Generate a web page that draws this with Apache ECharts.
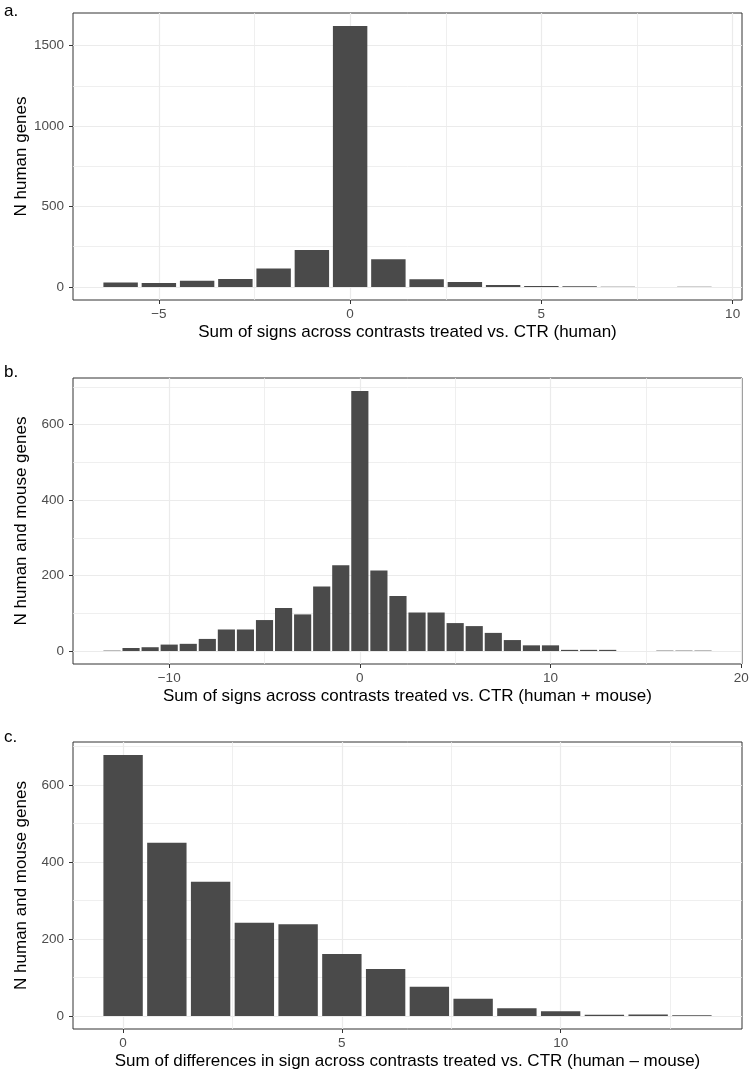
<!DOCTYPE html>
<html>
<head>
<meta charset="utf-8">
<script src="https://cdn.jsdelivr.net/npm/echarts@6/dist/echarts.min.js"></script>
<style>
html,body{margin:0;padding:0;background:#fff;}
#chart{width:749px;height:1071px;}
</style>
</head>
<body>
<div id="chart"></div>
<script>
// ---- Data ----
const aX = [-6, -5, -4, -3, -2, -1, 0, 1, 2, 3, 4, 5, 6, 7, 9];
const aN = [27, 25, 39, 50, 114, 229, 1622, 172, 48, 31, 12, 6, 4, 2, 1];
const bX = [-13, -12, -11, -10, -9, -8, -7, -6, -5, -4, -3, -2, -1, 0, 1, 2, 3, 4, 5, 6, 7, 8, 9, 10, 11, 12, 13, 16, 17, 18];
const bN = [1, 8, 10, 17, 19, 32, 57, 57, 82, 114, 97, 171, 227, 689, 213, 146, 102, 102, 74, 66, 48, 29, 15, 15, 3, 3, 3, 1, 1, 1];
const cX = [0, 1, 2, 3, 4, 5, 6, 7, 8, 9, 10, 11, 12, 13];
const cN = [678, 450, 349, 242, 238, 161, 122, 76, 45, 20, 12, 3, 4, 2];

// tick labels / grid breaks
const aXTicks = [-5, 0, 5, 10], aXMinor = [-2.5, 2.5, 7.5];
const aYTicks = [0, 500, 1000, 1500], aYMinor = [250, 750, 1250];
const bXTicks = [-10, 0, 10, 20], bXMinor = [-5, 5, 15];
const bYTicks = [0, 200, 400, 600], bYMinor = [100, 300, 500, 700];
const cXTicks = [0, 5, 10], cXMinor = [2.5, 7.5, 12.5];
const cYTicks = [0, 200, 400, 600], cYMinor = [100, 300, 500, 700];

const panelLabels = ['a.', 'b.', 'c.'];
const yTitles = ['N human genes', 'N human and mouse genes', 'N human and mouse genes'];
const xTitles = [
  'Sum of signs across contrasts treated vs. CTR (human)',
  'Sum of signs across contrasts treated vs. CTR (human + mouse)',
  'Sum of differences in sign across contrasts treated vs. CTR (human \u2013 mouse)'
];

// ---- Styling ----
const FONT = '"Liberation Sans", Arial, Helvetica, sans-serif';
const BAR = '#4a4a4a';
const GRIDC = '#ebebeb';
const panels = [
  { xs: aX, ys: aN, xt: aXTicks, xm: aXMinor, yt: aYTicks, ym: aYMinor, top: 13, height: 287 },
  { xs: bX, ys: bN, xt: bXTicks, xm: bXMinor, yt: bYTicks, ym: bYMinor, top: 378, height: 286 },
  { xs: cX, ys: cN, xt: cXTicks, xm: cXMinor, yt: cYTicks, ym: cYMinor, top: 742, height: 287 }
];

function expandRange(lo, hi) { const d = (hi - lo) * 0.05; return [lo - d, hi + d]; }
function fmt(v) { return v < 0 ? '\u2212' + Math.abs(v) : String(v); }

const grid = [], xAxis = [], yAxis = [], series = [], title = [];
const labelTops = [-2, 359, 724];

panels.forEach((p, i) => {
  grid.push({ left: 73, top: p.top, width: 669, height: p.height, show: true,
    borderColor: '#333', borderWidth: 1, backgroundColor: 'transparent',
    containLabel: false, outerBoundsMode: 'none' });
  const xr = expandRange(Math.min(...p.xs) - 0.45, Math.max(...p.xs) + 0.45);
  const yr = expandRange(0, Math.max(...p.ys));
  xAxis.push({
    type: 'value', gridIndex: i, min: xr[0], max: xr[1],
    axisLine: { show: false, onZero: false },
    axisTick: { show: true, length: 4, customValues: p.xt, lineStyle: { color: '#333', width: 1 } },
    axisLabel: { customValues: p.xt, formatter: fmt, margin: 7, color: '#4d4d4d', fontSize: 13.5, fontFamily: FONT },
    splitLine: { show: false },
    name: xTitles[i], nameLocation: 'middle', nameGap: 24, nameMoveOverlap: false,
    nameTextStyle: { color: '#000', fontSize: 17, fontFamily: FONT }
  });
  yAxis.push({
    type: 'value', gridIndex: i, min: yr[0], max: yr[1],
    axisLine: { show: false, onZero: false },
    axisTick: { show: true, length: 4, customValues: p.yt, lineStyle: { color: '#333', width: 1 } },
    axisLabel: { customValues: p.yt, formatter: fmt, margin: 9, color: '#4d4d4d', fontSize: 13.5, fontFamily: FONT },
    splitLine: { show: false },
    name: yTitles[i], nameLocation: 'middle', nameGap: 43, nameRotate: 90, nameMoveOverlap: false,
    nameTextStyle: { color: '#000', fontSize: 17, fontFamily: FONT }
  });
  const gridLines = [];
  p.ym.forEach(v => gridLines.push({ yAxis: v, lineStyle: { width: 0.8 } }));
  p.xm.forEach(v => gridLines.push({ xAxis: v, lineStyle: { width: 0.8 } }));
  p.yt.forEach(v => gridLines.push({ yAxis: v, lineStyle: { width: 1.2 } }));
  p.xt.forEach(v => gridLines.push({ xAxis: v, lineStyle: { width: 1.2 } }));
  series.push({
    type: 'custom', xAxisIndex: i, yAxisIndex: i, z: 2,
    data: p.xs.map((x, k) => [x, p.ys[k]]),
    encode: { x: 0, y: 1 },
    clip: true,
    renderItem: function (params, api) {
      const x = api.value(0), y = api.value(1);
      const p0 = api.coord([x - 0.45, y]);
      const p1 = api.coord([x + 0.45, 0]);
      return { type: 'rect', shape: { x: p0[0], y: p0[1], width: p1[0] - p0[0], height: p1[1] - p0[1] },
        style: { fill: BAR } };
    },
    markLine: {
      silent: true, symbol: 'none', z: 1, animation: false,
      label: { show: false },
      lineStyle: { color: GRIDC, type: 'solid' },
      data: gridLines
    }
  });
  title.push({ text: panelLabels[i], left: -1, top: labelTops[i],
    textStyle: { fontSize: 17, fontWeight: 'normal', color: '#000', fontFamily: FONT } });
});

const chart = echarts.init(document.getElementById('chart'), null, { renderer: 'canvas' });
chart.setOption({ animation: false, backgroundColor: '#fff', title, grid, xAxis, yAxis, series });
</script>
</body>
</html>
